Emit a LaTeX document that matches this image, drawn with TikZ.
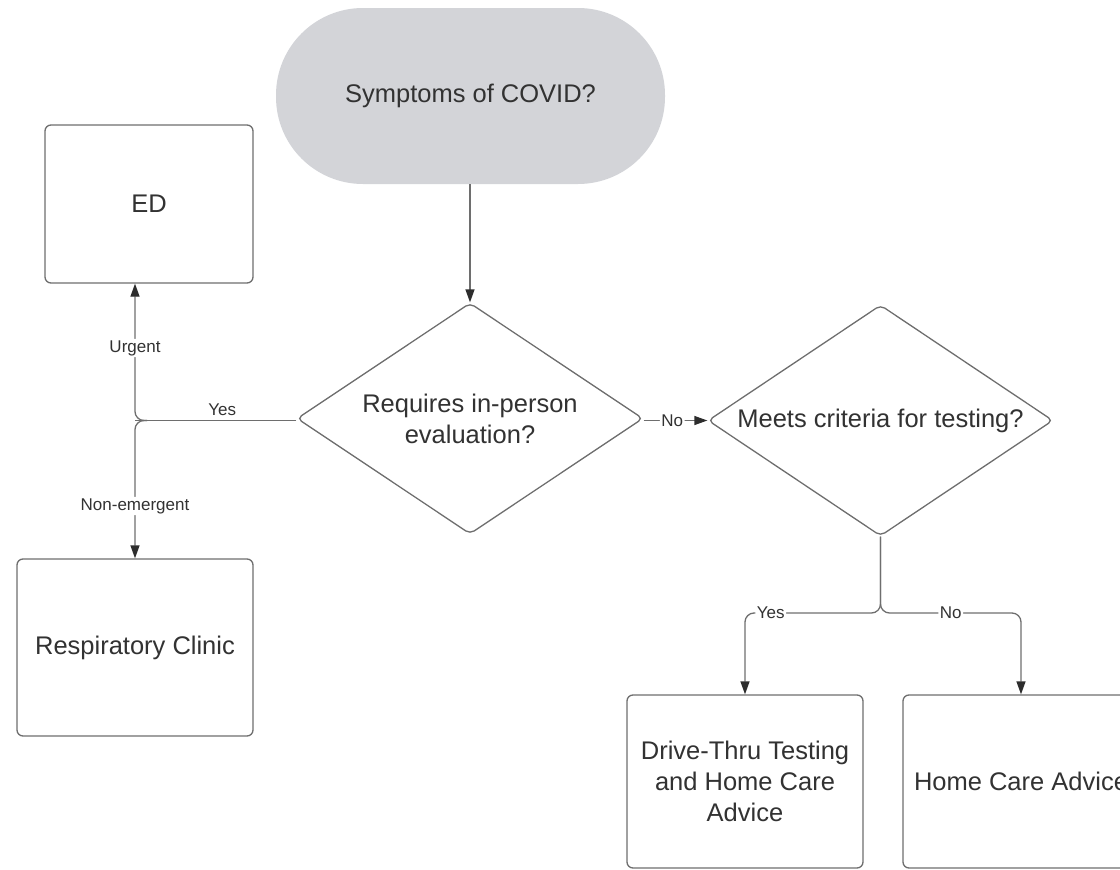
\documentclass[tikz,border=0pt]{standalone}
\usepackage{fontspec}
\setmainfont{Liberation Sans}
\usetikzlibrary{shapes.geometric,arrows.meta}
\definecolor{lineC}{RGB}{110,110,110}
\definecolor{tipC}{RGB}{45,45,45}
\definecolor{txtC}{RGB}{50,50,50}
\definecolor{termC}{RGB}{211,212,216}
\tikzset{
  box/.style={draw=lineC, line width=1.3pt, rounded corners=6pt, fill=white,
    text=txtC, font=\fontsize{25.5}{31}\selectfont, align=center, inner sep=0pt},
  term/.style={fill=termC, draw=none, rounded corners=87pt, text=txtC,
    font=\fontsize{25.5}{31}\selectfont, minimum width=389pt, minimum height=176pt, inner sep=0pt},
  dec/.style={diamond, draw=lineC, line width=1.3pt, rounded corners=5pt, fill=white,
    inner sep=0pt, minimum width=346pt, minimum height=231pt},
  dectext/.style={text=txtC, font=\fontsize{25.5}{31}\selectfont, align=center, inner sep=0pt},
  conn/.style={draw=lineC, line width=1.3pt, rounded corners=9pt,
    -{Triangle[length=13pt,width=9pt,color=tipC]}},
  plain/.style={draw=lineC, line width=1.3pt, rounded corners=9pt},
  lbl/.style={font=\fontsize{17}{20}\selectfont, text=txtC, fill=white, inner sep=1.5pt},
}
\begin{document}
\begin{tikzpicture}[x=1pt,y=-1pt]
\useasboundingbox (0,0) rectangle (1120,870);
\clip (0,0) rectangle (1120,870);

\node[term] (start) at (470.5,96) {Symptoms of COVID?};
\node[box, minimum width=208pt, minimum height=158pt] (ed) at (149,204) {ED};
\node[box, minimum width=236pt, minimum height=177pt] (resp) at (135,647.5) {Respiratory Clinic};
\node[dec, label={[dectext]center:{Requires in-person\\evaluation?}}] (d1) at (470,418.5) {};
\node[dec, minimum width=345pt, label={[dectext]center:{Meets criteria for testing?}}] (d2) at (880.5,420.5) {};
\node[box, minimum width=236pt, minimum height=173pt] (drive) at (745,781.5) {Drive-Thru Testing\\and Home Care\\Advice};
\node[box, minimum width=236pt, minimum height=173pt] (home) at (1021,781.5) {Home Care Advice};

\coordinate (jl) at (135,420.5);
\coordinate (jb) at (d2.south |- 0,613);

\draw[conn] (start.south -| d1.north) -- (d1.north);
\draw[plain] (d1.west |- jl) -- node[pos=0.46, above=3pt, lbl, fill=none] {Yes} (jl);
\draw[conn] ([xshift=12pt]jl) -- (jl) -- node[pos=0.53, lbl] {Urgent} (jl |- ed.south);
\draw[conn] ([xshift=12pt]jl) -- (jl) -- node[pos=0.62, lbl] {Non-emergent} (resp.north);
\draw[conn] (d1.east |- d2.west) -- node[pos=0.45, lbl] {No} (d2.west);
\draw[conn] (d2.south) -- (jb) -- node[pos=0.81, lbl] {Yes} (jb -| drive.north) -- (drive.north);
\draw[conn] (d2.south) -- (jb) -- node[pos=0.5, lbl] {No} (jb -| home.north) -- (home.north);
\end{tikzpicture}
\end{document}
